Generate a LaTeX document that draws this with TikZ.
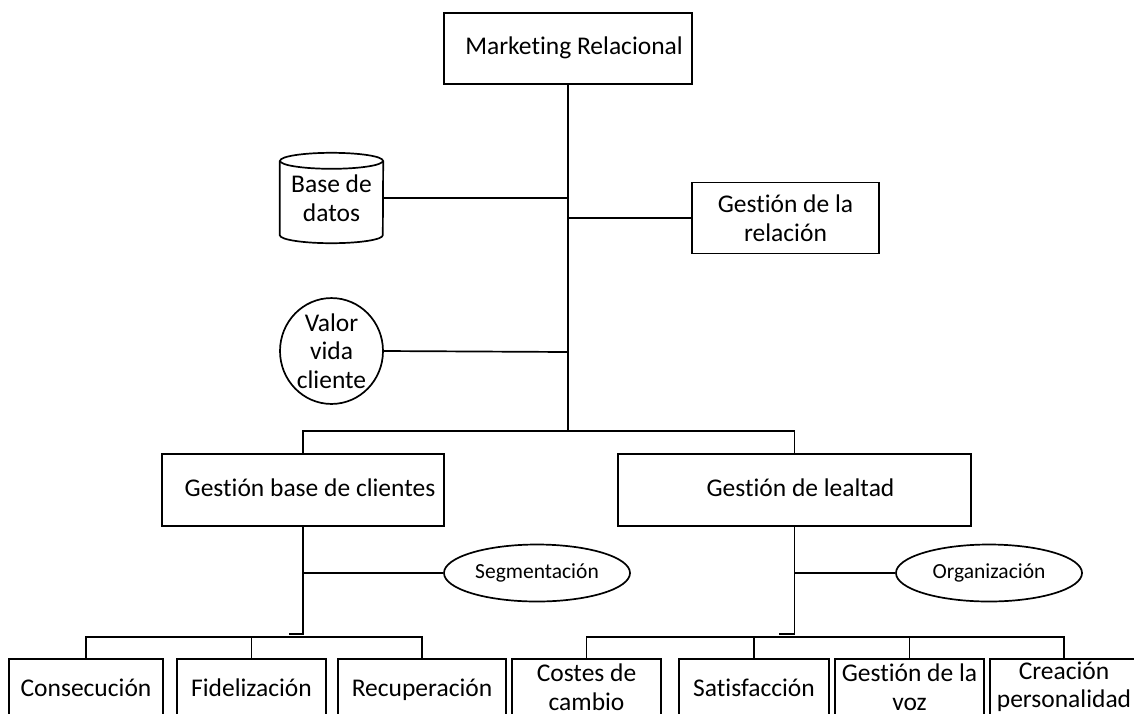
\documentclass[tikz,border=0pt]{standalone}
\usepackage{fontspec}
\setmainfont{Carlito}[Ligatures=NoCommon]
\usetikzlibrary{shapes.geometric}
\begin{document}
\begin{tikzpicture}[x=1pt,y=-1pt,
  every node/.style={font=\fontsize{25.5}{28.5}\selectfont, align=center, inner sep=0pt},
  box/.style={draw, line width=1.7pt, rectangle},
  one/.style={text height=18pt, text depth=6pt},
  oval/.style={draw, line width=1.7pt, ellipse, font=\fontsize{21.5}{25}\selectfont, text height=15pt, text depth=5pt},
  conn/.style={line width=1.7pt}]
\useasboundingbox (0,0) rectangle (1134,713);
\clip (0,0) rectangle (1134,713);

% top level
\node[box, one, minimum width=248pt, minimum height=71pt] (mr) at (568,48.5) {\hspace{12pt}Marketing Relacional};
\node[minimum width=103pt, minimum height=90pt] (db) at (331.5,198) {Base de\\datos};
\draw[conn] ([yshift=-8pt]db.north west) -- ([yshift=8pt]db.south west)
  arc[start angle=180, end angle=360, x radius=51.5pt, y radius=8pt]
  -- ([yshift=-8pt]db.north east);
\draw[conn] ([yshift=-8pt]db.north) ellipse [x radius=51.5pt, y radius=8pt];
\node[box, minimum width=187pt, minimum height=71pt] (gr) at (785.5,218) {Gestión de la\\relación};
\node[draw, line width=1.7pt, ellipse, minimum width=103pt, minimum height=97pt] (vv) at (331.5,351) {Valor\\vida\\cliente};

\coordinate (j0) at (568,431);
\coordinate (vj) at (568,352);
\draw[conn] (mr.south) -- (j0);
\draw[conn] (db.east) -- (db.east -| mr.south);
\draw[conn] (gr.west) -- (gr.west -| mr.south);
\draw[conn] (vv.east) -- (vj);

% second level
\node[box, one, minimum width=282pt, minimum height=72pt] (gb) at (303,490) {\hspace{14pt}Gestión base de clientes};
\node[box, one, minimum width=353pt, minimum height=72pt] (gl) at (794.5,490) {\hspace{12pt}Gestión de lealtad};
\draw[conn] (gb.north) |- (j0) -| (gl.north);

\node[oval, minimum width=186pt, minimum height=57pt] (seg) at (537,573) {Segmentación};
\node[oval, minimum width=186pt, minimum height=57pt] (org) at (989,573) {Organización};

\coordinate (h1) at (289,634);
\coordinate (h2) at (779,634);
\draw[conn] (gb.south) -- (gb.south |- h1) -- (h1);
\draw[conn] (gl.south) -- (gl.south |- h2) -- (h2);
\draw[conn] (seg.west) -- (seg.west -| gb.south);
\draw[conn] (org.west) -- (org.west -| gl.south);

% bottom level
\node[box, one, minimum width=154pt, minimum height=62pt] (cons) at (86,690) {Consecución};
\node[box, one, minimum width=149pt, minimum height=62pt] (fid) at (251.5,690) {Fidelización};
\node[box, one, minimum width=168pt, minimum height=62pt] (rec) at (422,690) {Recuperación};
\node[box, minimum width=149pt, minimum height=56pt] (cost) at (586.5,687) {Costes de\\cambio};
\node[box, one, minimum width=150pt, minimum height=62pt] (sat) at (754,690) {Satisfacción};
\node[box, minimum width=149pt, minimum height=56pt] (voz) at (909.5,687) {Gestión de la\\voz};
\node[box, minimum width=148pt, minimum height=56pt] (crea) at (1064,687) {Creación\\personalidad};

\coordinate (b1) at (0,637);
\draw[conn] (cons.north) |- (rec.north |- b1) -- (rec.north);
\draw[conn] (fid.north) -- (fid.north |- b1);
\draw[conn] (cost.north) |- (crea.north |- b1) -- (crea.north);
\draw[conn] (sat.north) -- (sat.north |- b1);
\draw[conn] (voz.north) -- (voz.north |- b1);
\end{tikzpicture}
\end{document}
